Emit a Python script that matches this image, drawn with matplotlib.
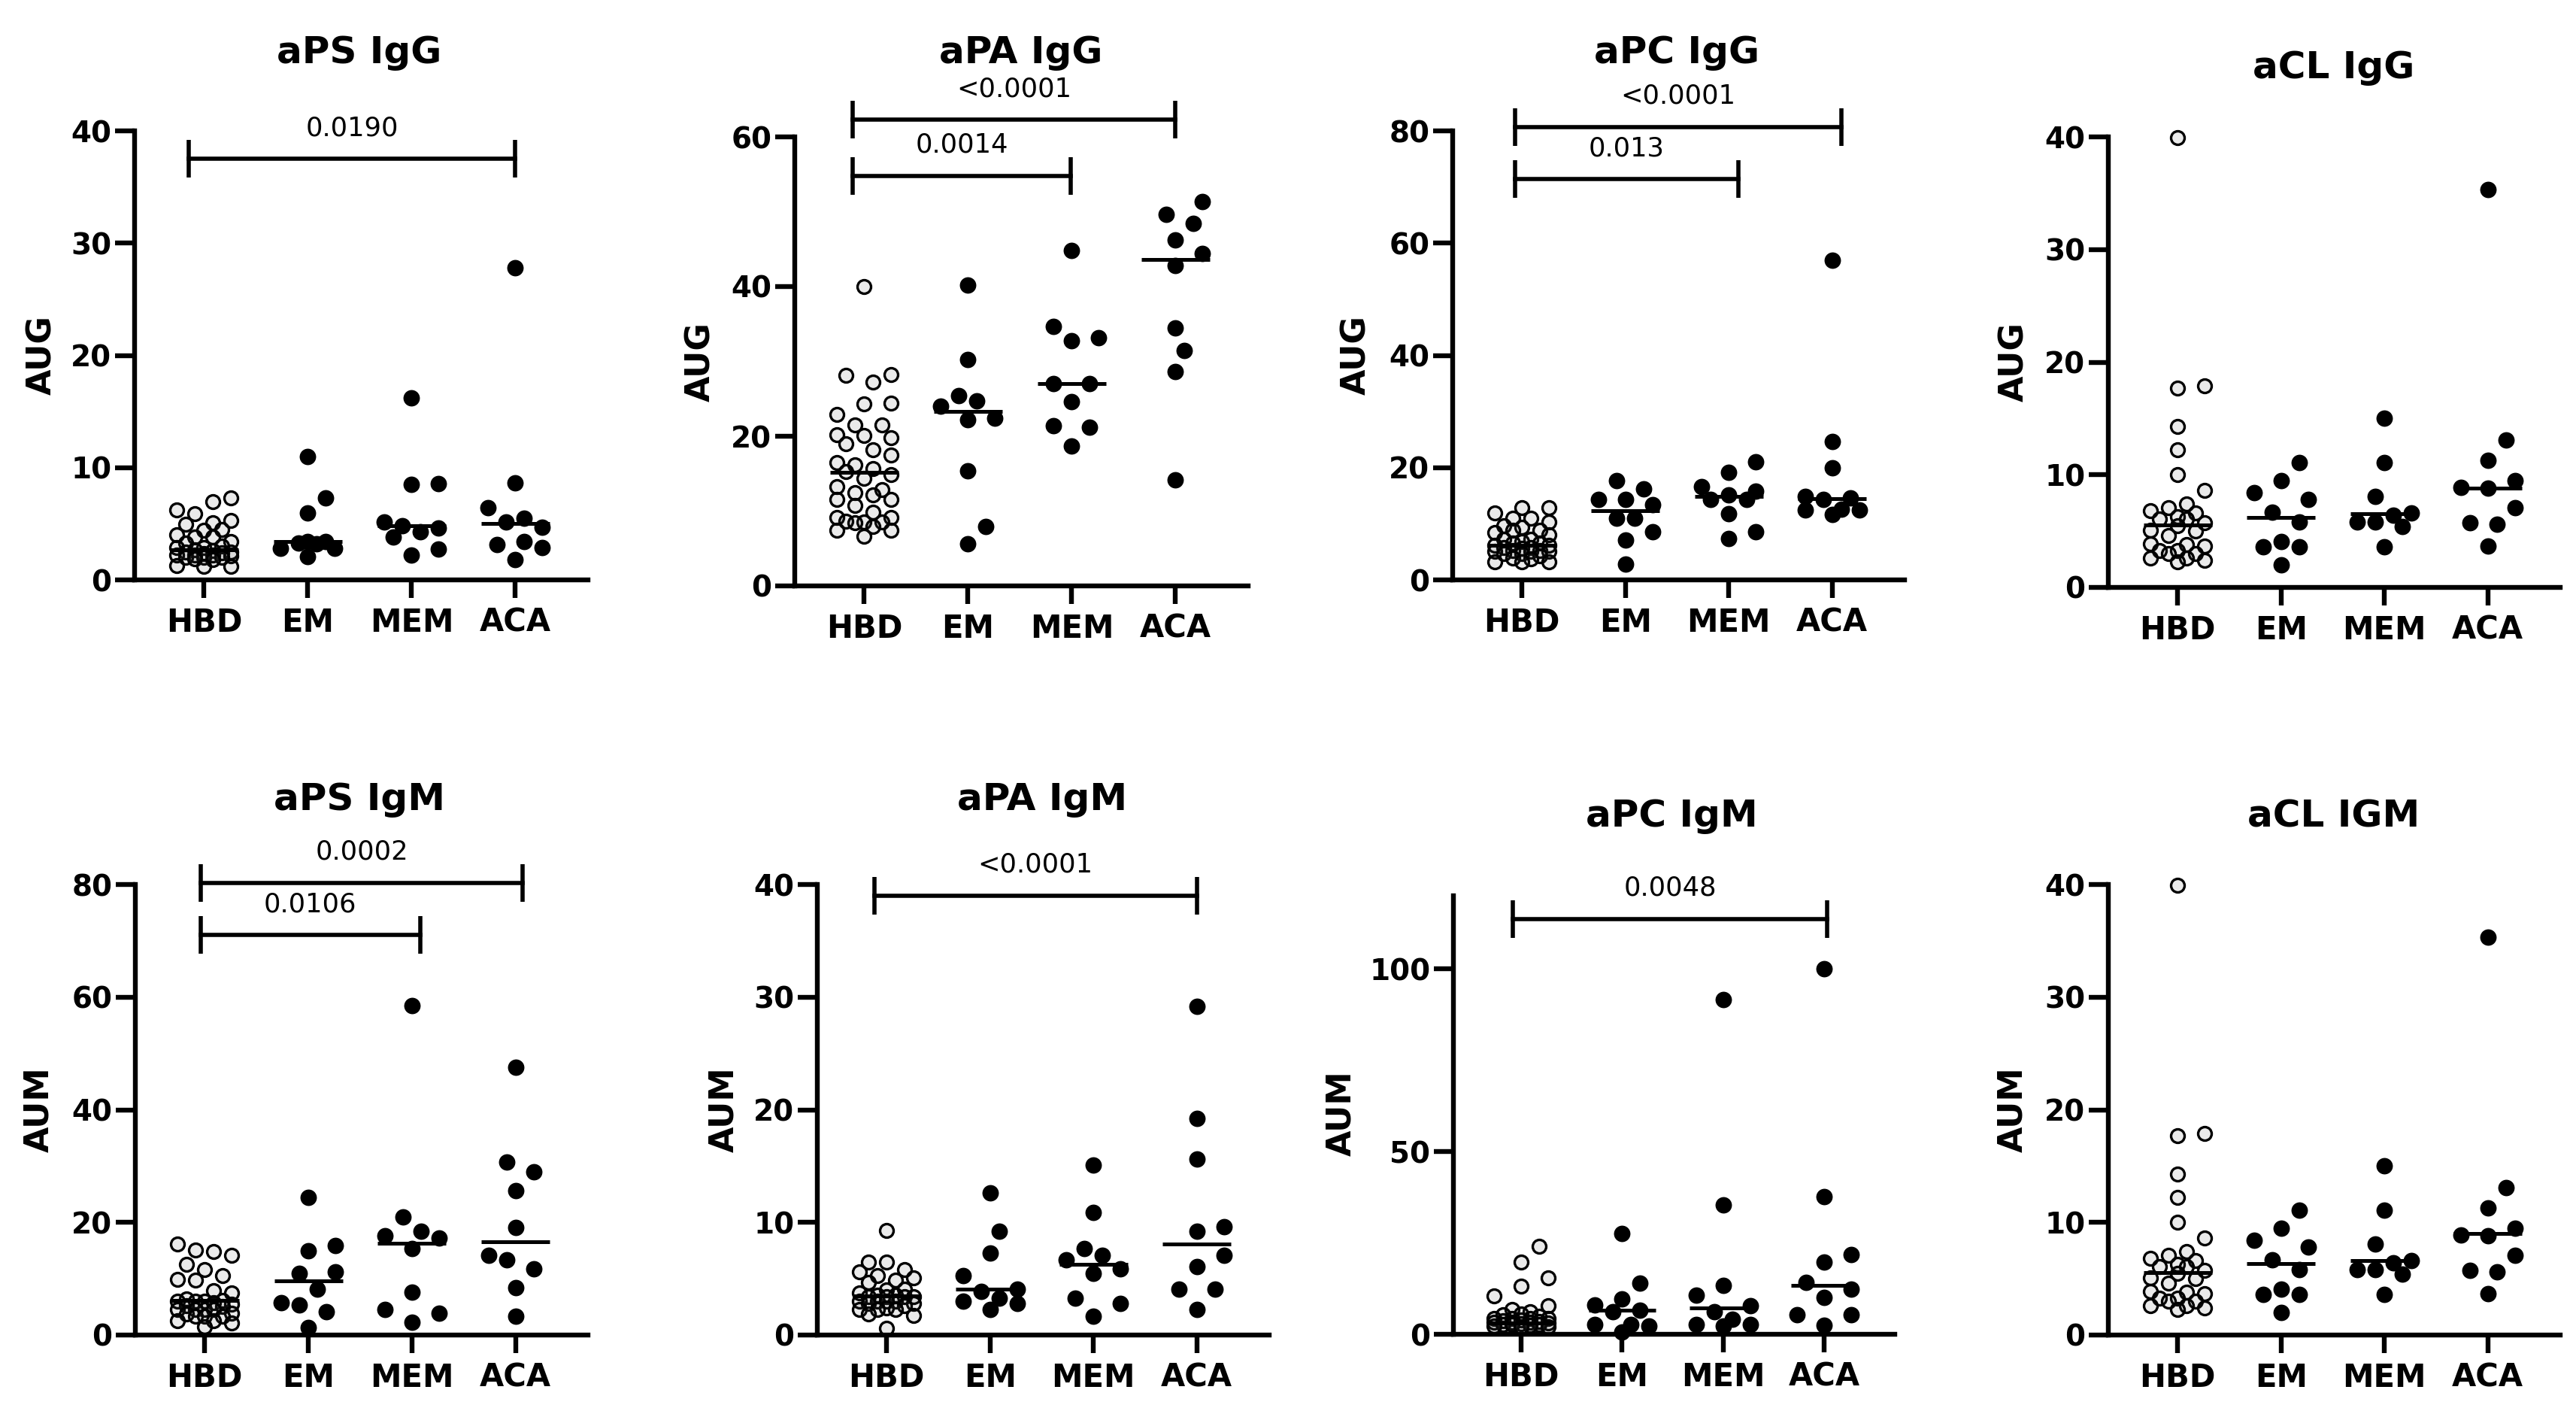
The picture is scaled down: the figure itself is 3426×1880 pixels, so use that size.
import numpy as np
import matplotlib.pyplot as plt

plt.rcParams["font.family"] = ["DejaVu Sans"]

W, H, DPI = 3426, 1880, 200
groups = ["HBD", "EM", "MEM", "ACA"]

# aPS IgG
aps_igg_hbd = [7.3, 7.0, 6.2, 5.9, 5.3, 5.1, 4.95, 4.5, 4.4, 4.0, 3.8, 3.8, 3.45, 3.3, 3.0,
               2.9, 2.9, 2.7, 2.6, 2.5, 2.5, 2.4, 2.35, 2.2, 2.2, 2.2, 2.15, 2.0, 2.0, 2.0,
               1.9, 1.8, 1.3, 1.2, 1.2]
aps_igg_em = [11.0, 7.3, 5.95, 3.4, 3.4, 3.3, 3.2, 2.8, 2.8, 2.05]
aps_igg_mem = [16.2, 8.56, 8.48, 5.13, 4.84, 4.65, 4.28, 3.83, 2.72, 2.23]
aps_igg_aca = [27.8, 8.67, 6.44, 5.5, 5.13, 4.69, 3.4, 3.16, 2.9, 1.8]
aps_igg_med = [2.7, 3.4, 4.84, 5.0]
aps_igg_p = [(-0.15, 3.0, 37.5, "0.0190")]

# aPA IgG
apa_igg_hbd = [40.0, 28.2, 28.1, 27.2, 24.4, 24.3, 22.9, 21.5, 21.5, 20.2, 20.1, 19.8, 19.0,
               18.2, 17.5, 16.5, 16.2, 15.7, 15.3, 14.9, 14.4, 13.3, 12.9, 12.5, 12.2, 11.6,
               11.6, 10.8, 9.8, 9.1, 9.1, 8.6, 8.5, 8.5, 8.4, 7.9, 7.4, 7.4, 6.6]
apa_igg_em = [40.2, 30.3, 25.4, 24.7, 24.0, 22.4, 22.2, 15.4, 7.9, 5.6]
apa_igg_mem = [44.8, 34.7, 33.2, 32.8, 27.0, 27.0, 24.6, 21.4, 21.2, 18.7]
apa_igg_aca = [51.4, 49.6, 48.4, 46.2, 44.4, 42.8, 34.5, 31.5, 28.6, 14.2]
apa_igg_med = [15.2, 23.3, 27.0, 43.6]
apa_igg_p = [(-0.11, 3.0, 62.3, "<0.0001"), (-0.11, 1.99, 54.8, "0.0014")]

# aPC IgG
apc_igg_hbd = [12.9, 12.9, 11.9, 11.0, 11.0, 10.3, 9.7, 9.4, 8.8, 8.8, 8.4, 8.0, 7.3, 7.3,
               6.9, 6.5, 6.5, 6.2, 6.2, 5.8, 5.8, 5.6, 5.2, 5.2, 5.1, 5.1, 5.1, 4.7, 4.7,
               4.3, 3.9, 3.7, 3.2, 3.2, 3.2]
apc_igg_em = [17.7, 16.2, 14.4, 14.4, 13.4, 11.0, 11.0, 8.6, 7.1, 2.8]
apc_igg_mem = [21.1, 19.2, 16.6, 15.8, 15.1, 14.4, 14.4, 11.8, 8.6, 7.4]
apc_igg_aca = [57.0, 24.6, 19.9, 14.9, 14.6, 14.4, 12.6, 12.5, 12.4, 11.6]
apc_igg_med = [6.2, 12.35, 14.9, 14.5]
apc_igg_p = [(-0.065, 3.09, 80.7, "<0.0001"), (-0.065, 2.09, 71.4, "0.013")]

# aCL IgG
acl_igg_hbd = [39.9, 17.9, 17.7, 14.3, 12.2, 10.0, 8.6, 7.4, 7.05, 6.8, 6.6, 6.3, 6.1, 6.1,
               5.75, 5.45, 5.1, 5.0, 4.6, 3.9, 3.8, 3.7, 3.3, 3.3, 3.0, 3.0, 2.6, 2.6, 2.4, 2.3]
acl_igg_em = [11.1, 9.5, 8.4, 7.8, 6.7, 5.8, 4.1, 3.6, 3.6, 2.0]
acl_igg_mem = [15.0, 11.1, 8.05, 6.6, 6.4, 5.8, 5.8, 5.4, 3.6]
acl_igg_aca = [35.3, 13.1, 11.3, 9.5, 8.9, 8.8, 7.1, 5.75, 5.6, 3.7]
acl_igg_med = [5.57, 6.2, 6.57, 8.8]

# aPS IgM
aps_igm_hbd = [16.1, 15.1, 14.8, 14.2, 12.6, 11.6, 10.5, 9.9, 9.7, 7.9, 7.5, 6.4, 6.2, 6.0,
               6.0, 6.0, 5.8, 5.5, 5.2, 5.1, 4.6, 4.6, 4.5, 4.5, 3.9, 3.7, 3.4, 3.4, 3.4,
               2.6, 2.6, 2.2, 1.5]
aps_igm_em = [24.5, 15.9, 15.0, 11.2, 10.9, 8.1, 5.8, 5.4, 4.1, 1.35]
aps_igm_mem = [58.5, 21.0, 18.4, 17.6, 17.2, 15.4, 7.6, 4.5, 3.9, 2.25]
aps_igm_aca = [47.6, 30.7, 29.0, 25.6, 19.1, 14.2, 13.3, 11.8, 8.4, 3.4]
aps_igm_med = [6.1, 9.6, 16.3, 16.6]
aps_igm_p = [(-0.04, 3.07, 80.3, "0.0002"), (-0.04, 2.08, 71.0, "0.0106")]

# aPA IgM
apa_igm_hbd = [9.3, 6.45, 6.45, 5.8, 5.6, 5.25, 5.1, 4.9, 4.7, 4.1, 4.0, 3.75, 3.55, 3.55,
               3.4, 3.4, 3.4, 3.4, 3.0, 3.0, 3.0, 3.0, 2.8, 2.8, 2.6, 2.4, 2.25, 2.25, 2.25,
               1.9, 1.75, 0.6]
apa_igm_em = [12.6, 9.2, 7.3, 5.3, 4.1, 3.9, 3.3, 3.0, 2.8, 2.3]
apa_igm_mem = [15.1, 10.9, 7.7, 7.05, 6.7, 5.9, 5.5, 3.3, 2.8, 1.7]
apa_igm_aca = [29.2, 19.2, 15.6, 9.6, 9.2, 7.05, 6.1, 4.05, 4.05, 2.25]
apa_igm_med = [3.5, 4.1, 6.26, 8.1]
apa_igm_p = [(-0.12, 3.0, 39.0, "<0.0001")]

# aPC IgM
apc_igm_hbd = [24.1, 19.7, 15.4, 13.1, 10.5, 7.9, 6.7, 6.1, 5.6, 5.3, 5.0, 4.4, 4.4, 4.4,
               4.4, 3.9, 3.8, 3.5, 3.2, 3.2, 3.2, 3.0, 2.9, 2.7, 2.7, 2.7, 2.5, 2.3, 2.1, 2.1]
apc_igm_em = [27.6, 13.9, 9.6, 8.1, 6.5, 6.1, 2.7, 2.7, 2.3, 0.7]
apc_igm_mem = [91.5, 35.5, 13.4, 10.8, 7.9, 6.1, 4.2, 2.7, 2.7, 2.3]
apc_igm_aca = [100.0, 37.7, 21.8, 19.7, 14.3, 12.3, 10.0, 5.3, 5.3, 2.4]
apc_igm_med = [3.0, 6.5, 7.3, 13.3]
apc_igm_p = [(-0.08, 3.03, 113.6, "0.0048")]

# aCL IGM (same values as aCL IgG in the source figure)
acl_igm_hbd = list(acl_igg_hbd)
acl_igm_em = list(acl_igg_em)
acl_igm_mem = list(acl_igg_mem)
acl_igm_aca = list(acl_igg_aca)
acl_igm_med = [5.55, 6.37, 6.6, 9.0]

panels = [
    dict(title="aPS IgG", ylabel="AUG", yticks=[0, 10, 20, 30, 40], ymax=40,
         data=[aps_igg_hbd, aps_igg_em, aps_igg_mem, aps_igg_aca], med=aps_igg_med, p=aps_igg_p,
         box=(179, 782, 174, 771), tpos=(478, 84), lpos=(56, 472)),
    dict(title="aPA IgG", ylabel="AUG", yticks=[0, 20, 40, 60], ymax=60,
         data=[apa_igg_hbd, apa_igg_em, apa_igg_mem, apa_igg_aca], med=apa_igg_med, p=apa_igg_p,
         box=(1057, 1660, 182, 779), tpos=(1358, 84), lpos=(932, 481)),
    dict(title="aPC IgG", ylabel="AUG", yticks=[0, 20, 40, 60, 80], ymax=80,
         data=[apc_igg_hbd, apc_igg_em, apc_igg_mem, apc_igg_aca], med=apc_igg_med, p=apc_igg_p,
         box=(1932, 2533, 174, 771), tpos=(2230, 84), lpos=(1804, 472)),
    dict(title="aCL IgG", ylabel="AUG", yticks=[0, 10, 20, 30, 40], ymax=40,
         data=[acl_igg_hbd, acl_igg_em, acl_igg_mem, acl_igg_aca], med=acl_igg_med, p=[],
         box=(2804, 3405, 182, 781), tpos=(3104, 104), lpos=(2679, 481)),
    dict(title="aPS IgM", ylabel="AUM", yticks=[0, 20, 40, 60, 80], ymax=80,
         data=[aps_igm_hbd, aps_igm_em, aps_igm_mem, aps_igm_aca], med=aps_igm_med, p=aps_igm_p,
         box=(180, 782, 1176, 1775), tpos=(478, 1077), lpos=(52, 1475)),
    dict(title="aPA IgM", ylabel="AUM", yticks=[0, 10, 20, 30, 40], ymax=40,
         data=[apa_igm_hbd, apa_igm_em, apa_igm_mem, apa_igm_aca], med=apa_igm_med, p=apa_igm_p,
         box=(1087, 1688, 1176, 1775), tpos=(1386, 1077), lpos=(963, 1475)),
    dict(title="aPC IgM", ylabel="AUM", yticks=[0, 50, 100], ymax=120,
         data=[apc_igm_hbd, apc_igm_em, apc_igm_mem, apc_igm_aca], med=apc_igm_med, p=apc_igm_p,
         box=(1933, 2520, 1191, 1774), tpos=(2223, 1099), lpos=(1784, 1480)),
    dict(title="aCL IGM", ylabel="AUM", yticks=[0, 10, 20, 30, 40], ymax=40,
         data=[acl_igm_hbd, acl_igm_em, acl_igm_mem, acl_igm_aca], med=acl_igm_med, p=[],
         box=(2804, 3405, 1176, 1775), tpos=(3104, 1099), lpos=(2677, 1475)),
]

XMIN, XMAX = -0.67, 3.7
LW = 2.3


def swarm(vals, ppx, ppy, d=30.0, step=12.0, maxw=40.0):
    # greedy beeswarm in pixel space, returns x offsets in data units
    vals = np.asarray(vals, dtype=float)
    cands = [0.0]
    k = 1
    while k * step <= maxw:
        cands += [k * step, -k * step]
        k += 1
    placed = []
    offs = np.zeros(len(vals))
    for i in np.argsort(vals):
        y = vals[i] * ppy
        best, best_gap = 0.0, -1.0
        for c in cands:
            gap = min([np.hypot(c - px, y - py) for px, py in placed], default=1e9)
            if gap >= d:
                best = c
                break
            if gap > best_gap:
                best_gap, best = gap, c
        placed.append((best, y))
        offs[i] = best / ppx
    return offs


fig = plt.figure(figsize=(W / DPI, H / DPI), dpi=DPI)

for pn in panels:
    x0, x1, yt, yb = pn["box"]
    ax = fig.add_axes([x0 / W, 1 - yb / H, (x1 - x0) / W, (yb - yt) / H])
    ax.set_xlim(XMIN, XMAX)
    ax.set_ylim(0, pn["ymax"])
    for s in ["top", "right"]:
        ax.spines[s].set_visible(False)
    for s in ["left", "bottom"]:
        ax.spines[s].set_linewidth(LW)
    ax.set_yticks(pn["yticks"])
    ax.set_yticklabels([str(t) for t in pn["yticks"]], fontsize=14, fontweight="bold")
    ax.set_xticks(range(4))
    ax.set_xticklabels(groups, fontsize=15, fontweight="bold")
    ax.tick_params(axis="y", length=9.2, width=LW, pad=1.8)
    ax.tick_params(axis="x", length=8.8, width=LW, pad=4)

    ppx = (x1 - x0) / (XMAX - XMIN)
    ppy = (yb - yt) / pn["ymax"]
    for i, vals in enumerate(pn["data"]):
        xs = i + swarm(vals, ppx, ppy)
        if i == 0:
            ax.scatter(xs, vals, s=42, facecolors=(0.35, 0.35, 0.35, 0.12),
                       edgecolors="black", linewidths=1.2, clip_on=False, zorder=3)
        else:
            ax.scatter(xs, vals, s=62, color="black", linewidths=0, clip_on=False, zorder=3)
        m = pn["med"][i]
        ax.plot([i - 0.33, i + 0.33], [m, m], color="black", lw=1.8,
                solid_capstyle="butt", zorder=4)

    for xa, xb, yv, lab in pn["p"]:
        ax.plot([xa, xb], [yv, yv], color="black", lw=2.0, marker="|", ms=18,
                mew=2.0, clip_on=False, zorder=4)
        ax.annotate(lab, xy=((xa + xb) / 2, yv), xytext=(0, 14.8), textcoords="offset points",
                    ha="center", va="center", fontsize=12.7, annotation_clip=False)

    tx, ty = pn["tpos"]
    fig.text(tx / W, 1 - ty / H, pn["title"], ha="center", va="baseline",
             fontsize=18, fontweight="bold")
    lx, ly = pn["lpos"]
    fig.text(lx / W, 1 - ly / H, pn["ylabel"], ha="center", va="center", rotation=90,
             fontsize=16, fontweight="bold")

fig.savefig("out.png", dpi=DPI)
